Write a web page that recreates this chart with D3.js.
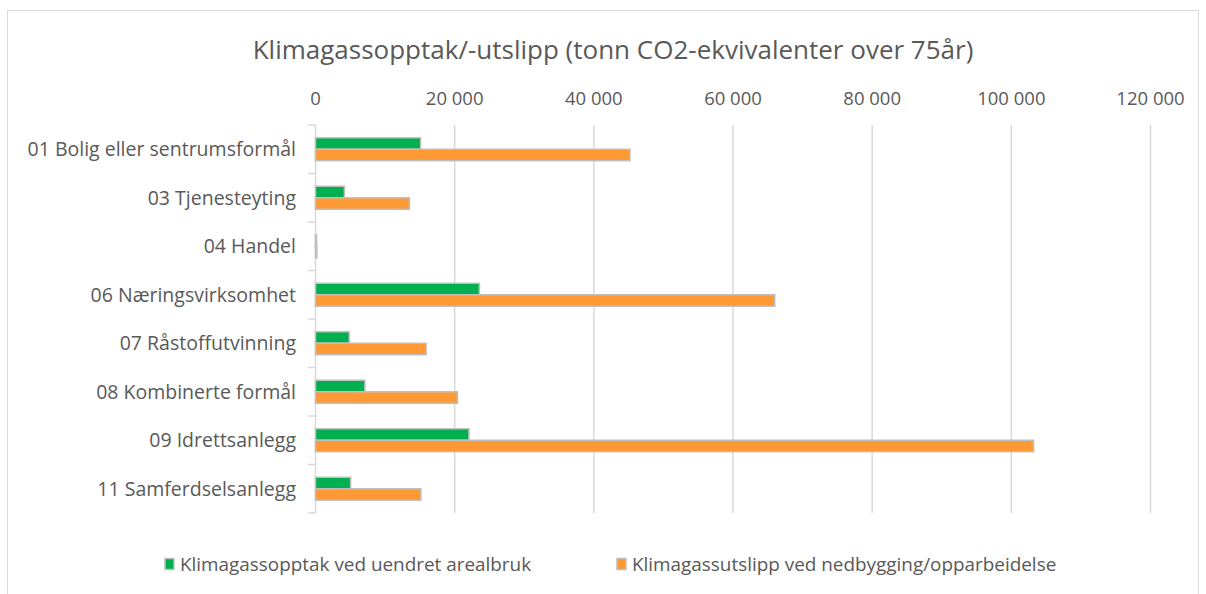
<!DOCTYPE html>
<html>
<head>
<meta charset="utf-8">
<script src="https://cdn.jsdelivr.net/npm/d3@7"></script>
<style>
  body { margin: 0; background: #fff; }
  text { font-family: "Open Sans", "Noto Sans", sans-serif; fill: #595959; }
</style>
</head>
<body>
<div id="chart"></div>
<script>
// data
const categories = [
  '01 Bolig eller sentrumsformål',
  '03 Tjenesteyting',
  '04 Handel',
  '06 Næringsvirksomhet',
  '07 Råstoffutvinning',
  '08 Kombinerte formål',
  '09 Idrettsanlegg',
  '11 Samferdselsanlegg'
];
const opptak = [15100, 4150, 150, 23550, 4850, 7100, 22050, 5050];
const utslipp = [45200, 13500, 200, 66000, 15900, 20400, 103200, 15150];
const seriesNames = ['Klimagassopptak ved uendret arealbruk', 'Klimagassutslipp ved nedbygging/opparbeidelse'];
const seriesColors = ['#00b050', '#ff9933'];
const xTicks = [0, 20000, 40000, 60000, 80000, 100000, 120000];

const W = 1206, H = 594;
const svg = d3.select('#chart').append('svg')
  .attr('width', W).attr('height', H);

// outer chart frame
svg.append('rect')
  .attr('x', 7.5).attr('y', 10.5).attr('width', 1191).attr('height', 600)
  .attr('fill', 'none').attr('stroke', '#d9d9d9').attr('stroke-width', 1);

svg.append('text')
  .attr('x', 613).attr('y', 59)
  .attr('text-anchor', 'middle')
  .style('font-size', '26px')
  .text('Klimagassopptak/-utslipp (tonn CO2-ekvivalenter over 75år)');

const x = d3.scaleLinear().domain([0, 120000]).range([315.5, 1150.5]);
const y = d3.scaleBand().domain(categories).range([125, 513]).padding(0);
const inner = d3.scaleBand().domain([0, 1])
  .range([y.bandwidth() / 2 - 11.5, y.bandwidth() / 2 + 11.5]);

const fmt = v => d3.format(',')(v).replace(/,/g, ' ');

// gridlines
svg.append('g').selectAll('line')
  .data(xTicks.slice(1))
  .join('line')
  .attr('x1', d => x(d)).attr('x2', d => x(d))
  .attr('y1', 125).attr('y2', 513)
  .attr('stroke', '#d9d9d9').attr('stroke-width', 1.5);

// top tick labels
svg.append('g').selectAll('text')
  .data(xTicks)
  .join('text')
  .attr('x', d => x(d)).attr('y', 105)
  .attr('text-anchor', 'middle')
  .style('font-size', '18.5px')
  .text(fmt);

// category axis line + ticks
svg.append('line')
  .attr('x1', 315.5).attr('x2', 315.5).attr('y1', 125).attr('y2', 513)
  .attr('stroke', '#d9d9d9').attr('stroke-width', 1.5);
const bounds = categories.map(c => y(c)).concat([513]);
svg.append('g').selectAll('line')
  .data(bounds)
  .join('line')
  .attr('x1', 308).attr('x2', 315.5)
  .attr('y1', d => d).attr('y2', d => d)
  .attr('stroke', '#d9d9d9').attr('stroke-width', 1.5);

svg.append('g').selectAll('text')
  .data(categories)
  .join('text')
  .attr('x', 296)
  .attr('y', d => y(d) + y.bandwidth() / 2 + 7)
  .attr('text-anchor', 'end')
  .style('font-size', '19.5px')
  .text(d => d);

// bars
const rows = [opptak, utslipp];
rows.forEach((vals, s) => {
  svg.append('g').selectAll('rect')
    .data(vals)
    .join('rect')
    .attr('x', x(0))
    .attr('y', (d, i) => y(categories[i]) + inner(s))
    .attr('width', d => x(d) - x(0))
    .attr('height', inner.bandwidth())
    .attr('fill', seriesColors[s])
    .attr('stroke', '#bfbfbf')
    .attr('stroke-width', 1.5);
});

// legend
const legendX = [165, 617];
seriesNames.forEach((name, s) => {
  svg.append('rect')
    .attr('x', legendX[s]).attr('y', 558.5)
    .attr('width', 9).attr('height', 11)
    .attr('fill', seriesColors[s])
    .attr('stroke', '#bfbfbf').attr('stroke-width', 1.5);
  svg.append('text')
    .attr('x', legendX[s] + 15).attr('y', 571)
    .style('font-size', '18.9px')
    .text(name);
});
</script>
</body>
</html>
